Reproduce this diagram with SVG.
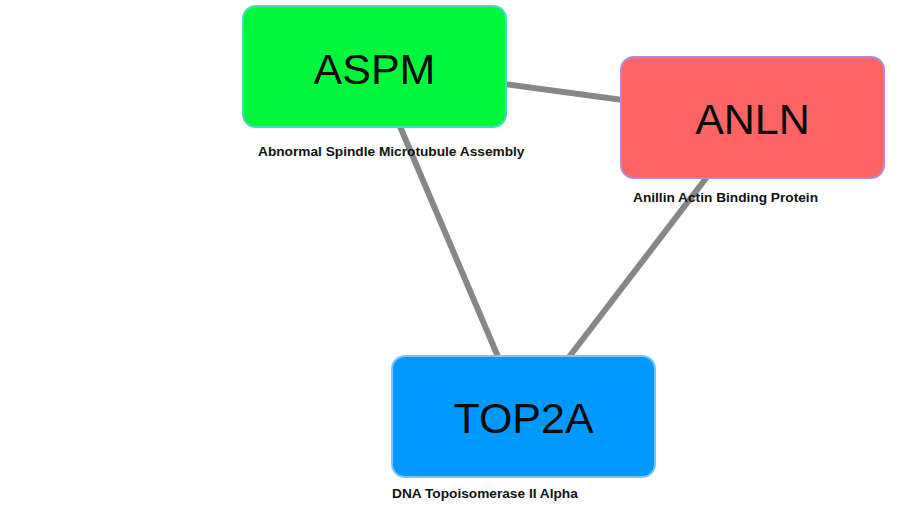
<svg xmlns="http://www.w3.org/2000/svg" width="913" height="505" viewBox="0 0 913 505">
  <style>
    .edge { stroke: #878787; stroke-width: 6; stroke-linecap: butt; fill: none; }
    .box { stroke-width: 2; }
    .name { font-family: "Liberation Sans", Arial, sans-serif; font-size: 43px; fill: #0a0a0a; text-anchor: middle; }
    .desc { font-family: "Liberation Sans", Arial, sans-serif; font-size: 13.7px; font-weight: bold; fill: #111; }
  </style>
  <rect width="913" height="505" fill="#ffffff"/>
  <g id="edges">
    <line class="edge" x1="374.5" y1="66.5" x2="752.5" y2="117.5"/>
    <line class="edge" x1="374.5" y1="66.5" x2="523.5" y2="416.5"/>
    <line class="edge" x1="752.5" y1="117.5" x2="523.5" y2="416.5"/>
  </g>
  <g id="node-aspm">
    <rect class="box" x="243" y="6" width="263" height="121" rx="13" fill="#00f83c" stroke="#4fd6c4"/>
    <text class="name" x="374.5" y="84">ASPM</text>
    <text class="desc" x="258" y="156">Abnormal Spindle Microtubule Assembly</text>
  </g>
  <g id="node-anln">
    <rect class="box" x="621" y="57" width="263" height="121" rx="13" fill="#ff6464" stroke="#b48ad8"/>
    <text class="name" x="752.5" y="134">ANLN</text>
    <text class="desc" x="633" y="202">Anillin Actin Binding Protein</text>
  </g>
  <g id="node-top2a">
    <rect class="box" x="392" y="356" width="263" height="121" rx="13" fill="#0099ff" stroke="#7cc4ff"/>
    <text class="name" x="523.5" y="433">TOP2A</text>
    <text class="desc" x="392" y="498">DNA Topoisomerase II Alpha</text>
  </g>
</svg>
